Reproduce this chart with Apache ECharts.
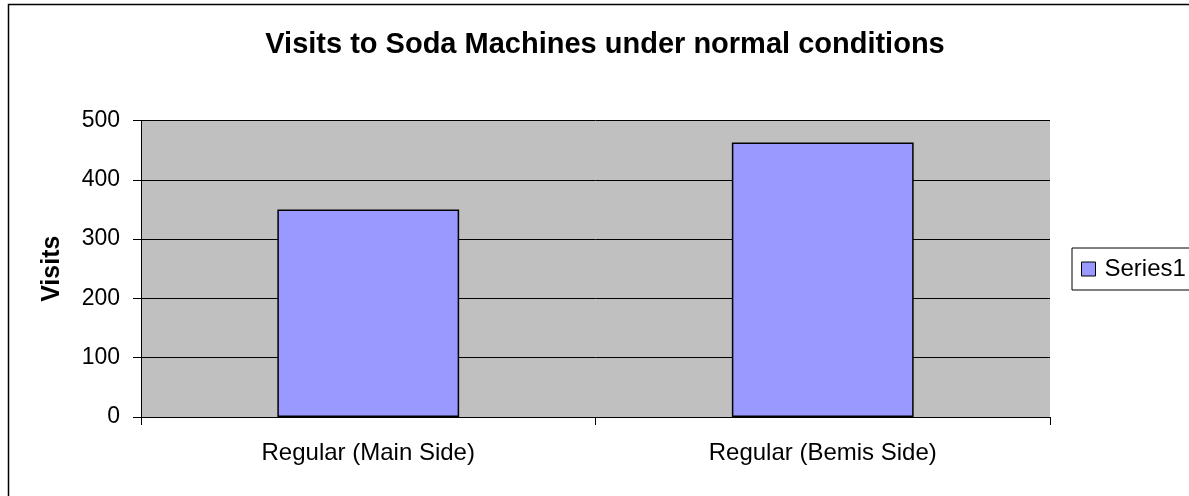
<!DOCTYPE html>
<html>
<head>
<meta charset="utf-8">
<script src="https://cdn.jsdelivr.net/npm/echarts@6/dist/echarts.min.js"></script>
<style>
html,body{margin:0;padding:0;background:#fff;}
#chart{width:1189px;height:496px;}
</style>
</head>
<body>
<div id="chart"></div>
<script>
const titleText = 'Visits to Soda Machines under normal conditions';
const categories = ['Regular (Main Side)', 'Regular (Bemis Side)'];
const seriesName = 'Series1';
const visits = [350, 463];
const yAxisName = 'Visits';
const yMin = 0, yMax = 500, yStep = 100;

const chart = echarts.init(document.getElementById('chart'));
const font = 'Liberation Sans, Arial, sans-serif';
chart.setOption({
  backgroundColor: '#ffffff',
  animation: false,
  graphic: [{
    type: 'rect',
    shape: {x: 8.5, y: 4.5, width: 1400, height: 700},
    style: {fill: 'none', stroke: '#000', lineWidth: 1.5},
    silent: true,
    z: -10
  }],
  title: {
    text: titleText,
    left: 600,
    textAlign: 'center',
    top: 25,
    textStyle: {fontFamily: font, fontSize: 29, fontWeight: 'bold', color: '#000'}
  },
  legend: {
    left: 1072,
    top: 248,
    orient: 'vertical',
    padding: [9, 40, 9, 9],
    borderColor: '#000',
    borderWidth: 1,
    itemWidth: 14,
    itemHeight: 14,
    icon: 'rect',
    itemStyle: {borderColor: '#000', borderWidth: 1},
    textStyle: {fontFamily: font, fontSize: 24, color: '#000', padding: [0, 0, 0, 4]},
    data: [seriesName]
  },
  grid: {left: 141, top: 120.5, right: 139, bottom: 79, show: true, backgroundColor: '#c0c0c0', borderWidth: 0},
  xAxis: {
    type: 'category',
    data: categories,
    axisLine: {lineStyle: {color: '#000', width: 1}},
    axisTick: {show: true, length: 8, lineStyle: {color: '#000'}},
    axisLabel: {fontFamily: font, fontSize: 24, color: '#000', margin: 24},
    splitLine: {show: false}
  },
  yAxis: {
    type: 'value',
    min: yMin, max: yMax, interval: yStep,
    name: yAxisName,
    nameLocation: 'middle',
    nameGap: 76,
    nameTextStyle: {fontFamily: font, fontSize: 25, fontWeight: 'bold', color: '#000'},
    axisLine: {show: true, lineStyle: {color: '#000', width: 1}},
    axisTick: {show: true, length: 8, lineStyle: {color: '#000'}},
    axisLabel: {fontFamily: font, fontSize: 23, color: '#000', margin: 21},
    splitLine: {show: true, lineStyle: {color: '#000', width: 1}}
  },
  series: [{
    name: seriesName,
    type: 'bar',
    data: visits,
    barWidth: '40%',
    itemStyle: {color: '#9999ff', borderColor: '#000', borderWidth: 1.5}
  }]
});
</script>
</body>
</html>
